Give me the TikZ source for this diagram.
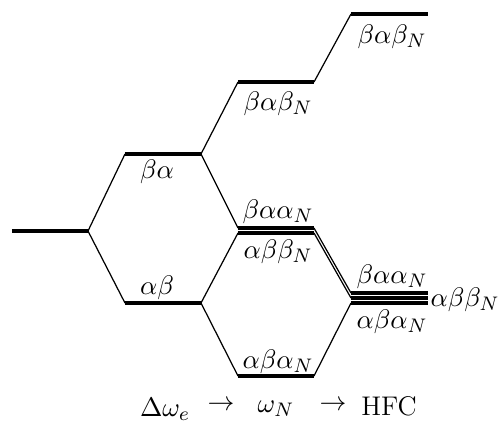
\documentclass[tikz,border=0pt]{standalone}
\begin{document}
\begin{tikzpicture}[x=0.408pt,y=-0.408pt,
  lvl/.style={line width=1.3pt},
  conn/.style={line width=0.5pt},
  lbl/.style={inner sep=0pt,font=\fontsize{11}{13}\selectfont}]
\useasboundingbox (0,0) rectangle (498,430);
% level end points
\coordinate (g-l) at (12,231);   \coordinate (g-r) at (88,231);
\coordinate (ba-l) at (125,154); \coordinate (ba-r) at (201,154);
\coordinate (ab-l) at (125,303); \coordinate (ab-r) at (201,303);
\coordinate (bab1-l) at (238,82);  \coordinate (bab1-r) at (314,82);
\coordinate (baa1-l) at (238,228); \coordinate (baa1-r) at (314,228);
\coordinate (abb1-l) at (238,233); \coordinate (abb1-r) at (314,233);
\coordinate (aba1-l) at (238,376); \coordinate (aba1-r) at (314,376);
\coordinate (bab2-l) at (351,14);  \coordinate (bab2-r) at (428,14);
\coordinate (baa2-l) at (351,293); \coordinate (baa2-r) at (428,293);
\coordinate (abb2-l) at (351,298); \coordinate (abb2-r) at (428,298);
\coordinate (aba2-l) at (351,303); \coordinate (aba2-r) at (428,303);
% levels
\foreach \n in {g,ba,ab,bab1,baa1,abb1,aba1,bab2,baa2,abb2,aba2}
  \draw[lvl] (\n-l) -- (\n-r);
% connectors
\draw[conn] (g-r) -- (ba-l);
\draw[conn] (g-r) -- (ab-l);
\draw[conn] (ba-r) -- (bab1-l);
\draw[conn] (ba-r) -- (baa1-l);
\draw[conn] (ab-r) -- (abb1-l);
\draw[conn] (ab-r) -- (aba1-l);
\draw[conn] (bab1-r) -- (bab2-l);
\draw[conn] (baa1-r) -- (baa2-l);
\draw[conn] (abb1-r) -- (abb2-l);
\draw[conn] (aba1-r) -- (aba2-l);
% labels
\node[lbl] (Lba) at (157,172) {$\beta\alpha$};
\node[lbl] (Lab) at (157,288) {$\alpha\beta$};
\node[lbl] (Lbab1) at (278,104) {$\beta\alpha\beta_N$};
\node[lbl] (Lbab2) at (392,37) {$\beta\alpha\beta_N$};
\node[lbl] (Lbaa1) at (278,212) {$\beta\alpha\alpha_N$};
\node[lbl] (Labb1) at (278,252) {$\alpha\beta\beta_N$};
\node[lbl] (Laba1) at (278,362) {$\alpha\beta\alpha_N$};
\node[lbl] (Lbaa2) at (392,277) {$\beta\alpha\alpha_N$};
\node[lbl] (Labb2) at (465,300) {$\alpha\beta\beta_N$};
\node[lbl] (Laba2) at (392,322) {$\alpha\beta\alpha_N$};
% bottom sequence
\node[lbl] (T1) at (165,409) {$\Delta\omega_e$};
\node[lbl] (A1) at (221,406) {$\rightarrow$};
\node[lbl] (T2) at (276,409) {$\omega_N$};
\node[lbl] (A2) at (333,406) {$\rightarrow$};
\node[lbl] (T3) at (389,406) {HFC};
\end{tikzpicture}
\end{document}
